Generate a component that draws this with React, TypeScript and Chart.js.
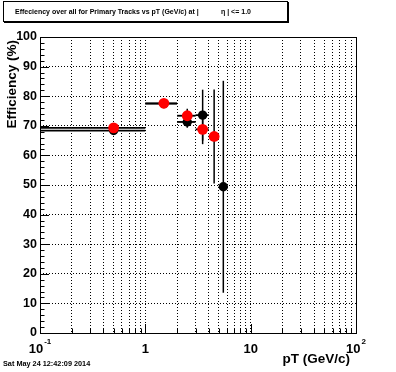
import { useEffect, useRef } from "react";
import { Chart, registerables } from "chart.js";

Chart.register(...registerables);

// ---- data ----
const blackPt = [0.5, 1.5, 2.5, 3.5, 5.5];
const blackEff = [68.4, 77.5, 71.3, 73.6, 49.4];
const blackErr = [0.3, 0.3, 2.0, 8.6, 35.8];

const redPt = [0.5, 1.5, 2.5, 3.5, 4.5];
const redEff = [69.3, 77.6, 73.4, 68.8, 66.4];
const redErr = [0.3, 0.3, 2.4, 5.0, 15.9];

const binHalfWidth = 0.5;

const xGridValues = [
  0.1, 0.2, 0.3, 0.4, 0.5, 0.6, 0.7, 0.8, 0.9,
  1, 2, 3, 4, 5, 6, 7, 8, 9,
  10, 20, 30, 40, 50, 60, 70, 80, 90, 100,
];
const xLabelValues = [0.1, 1, 10, 100];
const xLabelBase = ["10", "1", "10", "10"];
const xLabelExp = ["-1", "", "", "2"];

const yTickValues = [0, 10, 20, 30, 40, 50, 60, 70, 80, 90, 100];
const yMinorStep = 2;

const titleLeft = "Effeciency over all for Primary Tracks vs pT (GeV/c) at |";
const titleRight = "\u03B7 | <= 1.0";
const xTitle = "pT (GeV/c)";
const yTitle = "Efficiency (%)";
const dateText = "Sat May 24 12:42:09 2014";

const FONT = "'Liberation Sans', Arial, Helvetica, sans-serif";

const rootPlugin = {
  id: "rootStyle",
  beforeDatasetsDraw(chart: any) {
    const ctx = chart.ctx;
    const xs = chart.scales.x;
    const ys = chart.scales.y;
    const a = chart.chartArea;
    ctx.save();
    ctx.beginPath();
    ctx.rect(a.left, a.top, a.right - a.left, a.bottom - a.top);
    ctx.clip();
    ctx.strokeStyle = "#000";
    chart.data.datasets.forEach((ds: any) => {
      ds.data.forEach((p: any) => {
        const px = xs.getPixelForValue(p.x);
        const py = ys.getPixelForValue(p.y);
        const lo = Math.max(p.x - p.xe, xs.min);
        const hi = Math.min(p.x + p.xe, xs.max);
        ctx.lineWidth = 1.8;
        ctx.beginPath();
        ctx.moveTo(xs.getPixelForValue(lo), py);
        ctx.lineTo(xs.getPixelForValue(hi), py);
        ctx.stroke();
        ctx.lineWidth = 1.5;
        ctx.beginPath();
        ctx.moveTo(px, ys.getPixelForValue(p.y + p.ye));
        ctx.lineTo(px, ys.getPixelForValue(p.y - p.ye));
        ctx.stroke();
      });
    });
    ctx.restore();
  },
  afterDraw(chart: any) {
    const ctx = chart.ctx;
    const xs = chart.scales.x;
    const ys = chart.scales.y;
    const a = chart.chartArea;
    ctx.save();
    ctx.strokeStyle = "#000";
    ctx.fillStyle = "#000";
    ctx.lineWidth = 1;
    // frame
    ctx.strokeRect(Math.round(a.left) + 0.5, Math.round(a.top) + 0.5,
      Math.round(a.right - a.left), Math.round(a.bottom - a.top));

    // y ticks (inward)
    ctx.beginPath();
    for (let v = ys.min; v <= ys.max + 1e-9; v += yMinorStep) {
      const y = Math.round(ys.getPixelForValue(v)) + 0.5;
      const major = yTickValues.includes(Math.round(v));
      ctx.moveTo(a.left, y);
      ctx.lineTo(a.left + (major ? 9 : 4.5), y);
    }
    // x ticks (inward)
    xGridValues.forEach((v) => {
      const x = Math.round(xs.getPixelForValue(v)) + 0.5;
      const major = xLabelValues.includes(v);
      ctx.moveTo(x, a.bottom);
      ctx.lineTo(x, a.bottom - (major ? 9 : 4.5));
    });
    ctx.stroke();

    // y labels
    ctx.font = `bold 12.5px ${FONT}`;
    ctx.textAlign = "right";
    ctx.textBaseline = "middle";
    yTickValues.forEach((v) => {
      ctx.fillText(String(v), a.left - 3, ys.getPixelForValue(v));
    });

    // x labels
    ctx.textBaseline = "alphabetic";
    xLabelValues.forEach((v, i) => {
      const cx = xs.getPixelForValue(v);
      ctx.font = `bold 13px ${FONT}`;
      const wb = ctx.measureText(xLabelBase[i]).width;
      ctx.font = `bold 8px ${FONT}`;
      const we = xLabelExp[i] ? ctx.measureText(xLabelExp[i]).width + 1 : 0;
      const start = cx - (wb + we) / 2;
      ctx.textAlign = "left";
      ctx.font = `bold 13px ${FONT}`;
      ctx.fillText(xLabelBase[i], start, a.bottom + 20);
      if (xLabelExp[i]) {
        ctx.font = `bold 8px ${FONT}`;
        ctx.fillText(xLabelExp[i], start + wb + 1, a.bottom + 11);
      }
    });

    // axis titles
    ctx.font = `bold 13.5px ${FONT}`;
    ctx.textAlign = "right";
    ctx.textBaseline = "middle";
    ctx.fillText(xTitle, a.right - 6, a.bottom + 26);

    ctx.save();
    ctx.translate(12, a.top + 3);
    ctx.rotate(-Math.PI / 2);
    ctx.textAlign = "right";
    ctx.fillText(yTitle, 0, 0);
    ctx.restore();

    // date
    ctx.font = `bold 7.3px ${FONT}`;
    ctx.textAlign = "left";
    ctx.textBaseline = "middle";
    ctx.fillText(dateText, 3, 364);

    // title box
    ctx.fillStyle = "#fff";
    ctx.fillRect(3, 1, 285, 21);
    ctx.strokeStyle = "#000";
    ctx.lineWidth = 1;
    ctx.strokeRect(3.5, 1.5, 284, 20);
    ctx.fillStyle = "#000";
    ctx.fillRect(4, 21, 285, 2);
    ctx.fillRect(287, 2, 2, 21);
    ctx.font = `bold 7px ${FONT}`;
    ctx.textAlign = "left";
    ctx.fillText(titleLeft, 15, 12.5);
    ctx.fillText(titleRight, 221, 12.5);
    ctx.restore();
  },
};

export default function App() {
  const ref = useRef<HTMLCanvasElement | null>(null);
  useEffect(() => {
    document.body.style.margin = "0";
    document.body.style.background = "#fff";
    const canvas = ref.current;
    if (!canvas) return;
    const chart = new Chart(canvas, {
      type: "scatter",
      data: {
        datasets: [
          {
            label: "red",
            order: 0,
            data: redPt.map((x, i) => ({ x, y: redEff[i], xe: binHalfWidth, ye: redErr[i] })),
            pointRadius: 5.4,
            pointBackgroundColor: "#ff0000",
            pointBorderColor: "#ff0000",
            pointBorderWidth: 0,
            showLine: false,
          },
          {
            label: "black",
            order: 1,
            data: blackPt.map((x, i) => ({ x, y: blackEff[i], xe: binHalfWidth, ye: blackErr[i] })),
            pointRadius: 4.7,
            pointBackgroundColor: "#000000",
            pointBorderColor: "#000000",
            pointBorderWidth: 0,
            showLine: false,
          },
        ],
      },
      options: {
        responsive: false,
        animation: false,
        events: [],
        layout: { padding: { left: 40, top: 37, right: 40, bottom: 39 } },
        plugins: { legend: { display: false }, tooltip: { enabled: false } },
        scales: {
          x: {
            type: "logarithmic",
            min: 0.1,
            max: 100,
            afterBuildTicks: (s: any) => {
              s.ticks = xGridValues.map((v) => ({ value: v }));
            },
            ticks: { display: false },
            grid: { color: "#000", lineWidth: 1, drawTicks: false },
            border: { display: false, dash: [1, 2] },
          },
          y: {
            type: "linear",
            min: 0,
            max: 100,
            afterBuildTicks: (s: any) => {
              s.ticks = yTickValues.map((v) => ({ value: v }));
            },
            ticks: { display: false },
            grid: { color: "#000", lineWidth: 1, drawTicks: false },
            border: { display: false, dash: [1, 2] },
          },
        },
      } as any,
      plugins: [rootPlugin],
    });
    return () => chart.destroy();
  }, []);
  return (
    <canvas
      ref={ref}
      width={396}
      height={372}
      style={{ display: "block", width: 396, height: 372 }}
    />
  );
}
